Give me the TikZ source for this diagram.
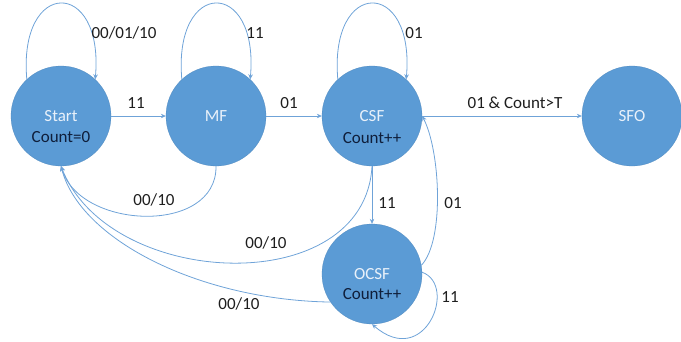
\documentclass[tikz,border=0pt]{standalone}
\usepackage{fontspec}
\setmainfont{Carlito}
\usetikzlibrary{arrows.meta}
\definecolor{statefill}{HTML}{5B9BD5}
\definecolor{statename}{HTML}{E9F1FA}
\definecolor{statecount}{HTML}{0F1E3A}
\definecolor{edgecol}{HTML}{6FA3D8}
\definecolor{labelcol}{HTML}{1E1E1E}
\tikzset{
  fsmstate/.style={circle, fill=statefill, draw=statefill!90!black, line width=0.3pt,
    minimum size=100pt, inner sep=0pt, text=statename, font=\fontsize{17}{20}\selectfont},
  counttext/.style={text=statecount, font=\fontsize{17}{20}\selectfont, inner sep=0pt},
  trans/.style={draw=edgecol, line width=0.8pt, -{Stealth[length=5pt,width=4.5pt]}},
  edgelabel/.style={text=labelcol, font=\fontsize{17}{20}\selectfont, inner sep=0pt}
}
\begin{document}
\begin{tikzpicture}[x=1pt,y=-1pt]
\useasboundingbox (0,0) rectangle (681,341);

% states
\node[fsmstate] (Start) at (61,116) {Start};
\node[fsmstate] (MF)    at (216,116) {MF};
\node[fsmstate] (CSF)   at (372,116) {CSF};
\node[fsmstate] (SFO)   at (632,116) {SFO};
\node[fsmstate] (OCSF)  at (372,274) {OCSF};
\node[counttext] (StartCount) at (61,137) {Count=0};
\node[counttext] (CSFCount)   at (372,138) {Count++};
\node[counttext] (OCSFCount)  at (372,294) {Count++};

% self loops
\draw[trans] (Start.133) .. controls (18,-22) and (104,-22) .. (Start.47);
\draw[trans] (MF.133) .. controls (173,-22) and (259,-22) .. (MF.47);
\draw[trans] (CSF.133) .. controls (329,-22) and (415,-22) .. (CSF.47);
\draw[trans] (OCSF.2) .. controls (458,285) and (425,370) .. (OCSF.south);

% forward transitions
\draw[trans] (Start.east) -- (MF.west);
\draw[trans] (MF.east) -- (CSF.west);
\draw[trans] (CSF.east) -- (SFO.west);
\draw[trans] (CSF.south) -- (OCSF.north);
\draw[trans] (OCSF.10) .. controls (445,240) and (440,150) .. (CSF.east);

% returns to Start
\draw[trans] (MF.south) .. controls (217,235) and (80,230) .. (Start.south);
\draw[trans] (CSF.south) .. controls (365,300) and (110,290) .. (Start.south);
\draw[trans] (OCSF.214) .. controls (200,300) and (80,240) .. (Start.south);

% transition labels
\node[edgelabel] (lStartLoop) at (124,33) {00/01/10};
\node[edgelabel] (lMFLoop)    at (255,33) {11};
\node[edgelabel] (lCSFLoop)   at (414,33) {01};
\node[edgelabel] (lStartMF)   at (136,103) {11};
\node[edgelabel] (lMFCSF)     at (289,103) {01};
\node[edgelabel] (lCSFSFO)    at (515,103) {01 \& Count>T};
\node[edgelabel] (lMFStart)   at (154,200) {00/10};
\node[edgelabel] (lCSFStart)  at (266,243) {00/10};
\node[edgelabel] (lOCSFStart) at (239,304) {00/10};
\node[edgelabel] (lCSFOCSF)   at (387,203) {11};
\node[edgelabel] (lOCSFCSF)   at (453,203) {01};
\node[edgelabel] (lOCSFLoop)  at (450,297) {11};
\end{tikzpicture}
\end{document}
